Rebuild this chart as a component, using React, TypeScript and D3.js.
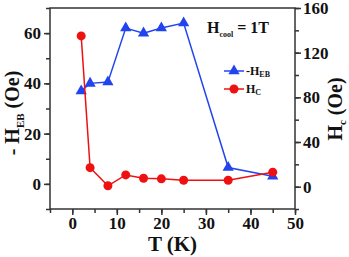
import React, { useEffect, useRef } from 'react';
import * as d3 from 'd3';

// temperatures (K) and measured values
const tempsK = [2, 4, 8, 12, 16, 20, 25, 35, 45];
const hebValues = [37, 40, 40.5, 62, 60, 62, 64, 6.5, 3];
const hcValues = [135, 17, 0.8, 10.5, 7.5, 7, 5.7, 5.7, 13];

const xTicks = [0, 10, 20, 30, 40, 50];
const leftTicks = [0, 20, 40, 60];
const rightTicks = [0, 40, 80, 120, 160];

const BLUE = '#2244ee';
const RED = '#ee1111';
const AXIS = '#333';
const FONT = '"Liberation Serif", "Times New Roman", serif';

const App: React.FC = () => {
    const svgRef = useRef<SVGSVGElement | null>(null);

    useEffect(() => {
        const svg = d3.select(svgRef.current);
        svg.selectAll('*').remove();

        const margin = { top: 8, right: 54, bottom: 48, left: 50 };
        const width = 349;
        const height = 257;

        const x = d3.scaleLinear().domain([-5, 50]).range([margin.left, width - margin.right]);
        const yL = d3.scaleLinear().domain([-10, 70]).range([height - margin.bottom, margin.top]);
        const yR = d3.scaleLinear().domain([-20, 160]).range([height - margin.bottom, margin.top]);

        const styleAxis = (g: d3.Selection<SVGGElement, unknown, null, undefined>) => {
            g.select('.domain').remove();
            g.selectAll('line').attr('stroke', AXIS).attr('stroke-width', 1.5);
            g.selectAll('text')
                .attr('font-family', FONT)
                .attr('font-weight', 'bold')
                .attr('font-size', 17)
                .attr('fill', '#111');
        };

        // minor ticks
        svg.append('g')
            .attr('transform', `translate(0,${height - margin.bottom})`)
            .call(d3.axisBottom(x).tickValues(d3.range(-5, 51, 5)).tickSize(4).tickFormat(() => ''))
            .call(styleAxis);
        svg.append('g')
            .attr('transform', `translate(${margin.left},0)`)
            .call(d3.axisLeft(yL).tickValues(d3.range(-10, 71, 10)).tickSize(4).tickFormat(() => ''))
            .call(styleAxis);
        svg.append('g')
            .attr('transform', `translate(${width - margin.right},0)`)
            .call(d3.axisRight(yR).tickValues(d3.range(-20, 161, 20)).tickSize(4).tickFormat(() => ''))
            .call(styleAxis);

        // major ticks
        svg.append('g')
            .attr('transform', `translate(0,${height - margin.bottom})`)
            .call(d3.axisBottom(x).tickValues(xTicks).tickSize(6).tickPadding(2).tickFormat(d3.format('d')))
            .call(styleAxis);
        svg.append('g')
            .attr('transform', `translate(${margin.left},0)`)
            .call(d3.axisLeft(yL).tickValues(leftTicks).tickSize(6).tickPadding(3).tickFormat(d3.format('d')))
            .call(styleAxis);
        svg.append('g')
            .attr('transform', `translate(${width - margin.right},0)`)
            .call(d3.axisRight(yR).tickValues(rightTicks).tickSize(6).tickPadding(2).tickFormat(d3.format('d')))
            .call(styleAxis);

        // frame
        svg.append('rect')
            .attr('x', margin.left)
            .attr('y', margin.top)
            .attr('width', width - margin.left - margin.right)
            .attr('height', height - margin.top - margin.bottom)
            .attr('fill', 'none')
            .attr('stroke', AXIS)
            .attr('stroke-width', 1.5);

        const tri = d3.symbol().type(d3.symbolTriangle).size(55);

        // -HEB series
        const hebData = tempsK.map((t, i) => ({ t, v: hebValues[i] }));
        svg.append('path')
            .datum(hebData)
            .attr('fill', 'none')
            .attr('stroke', BLUE)
            .attr('stroke-width', 1.5)
            .attr('d', d3.line<{ t: number; v: number }>().x(d => x(d.t)).y(d => yL(d.v)));
        svg.append('g')
            .selectAll('path')
            .data(hebData)
            .join('path')
            .attr('d', tri)
            .attr('transform', d => `translate(${x(d.t)},${yL(d.v)})`)
            .attr('fill', BLUE);

        // Hc series
        const hcData = tempsK.map((t, i) => ({ t, v: hcValues[i] }));
        svg.append('path')
            .datum(hcData)
            .attr('fill', 'none')
            .attr('stroke', RED)
            .attr('stroke-width', 1.5)
            .attr('d', d3.line<{ t: number; v: number }>().x(d => x(d.t)).y(d => yR(d.v)));
        svg.append('g')
            .selectAll('circle')
            .data(hcData)
            .join('circle')
            .attr('cx', d => x(d.t))
            .attr('cy', d => yR(d.v))
            .attr('r', 4.5)
            .attr('fill', RED);

        // legend
        const legend = [
            { color: BLUE, main: '-H', sub: 'EB', marker: 'tri', y: 71 },
            { color: RED, main: 'H', sub: 'C', marker: 'circle', y: 89 },
        ];
        legend.forEach(item => {
            const g = svg.append('g');
            g.append('line')
                .attr('x1', 224).attr('x2', 244)
                .attr('y1', item.y).attr('y2', item.y)
                .attr('stroke', item.color).attr('stroke-width', 1.5);
            if (item.marker === 'tri') {
                g.append('path').attr('d', tri).attr('transform', `translate(234,${item.y})`).attr('fill', item.color);
            } else {
                g.append('circle').attr('cx', 234).attr('cy', item.y).attr('r', 4.5).attr('fill', item.color);
            }
            const t = g.append('text')
                .attr('x', 246).attr('y', item.y + 4)
                .attr('font-family', FONT).attr('font-weight', 'bold').attr('font-size', 12)
                .attr('fill', '#111');
            t.append('tspan').text(item.main);
            t.append('tspan').attr('font-size', 8).attr('dy', 2).text(item.sub);
        });

        // H_cool annotation
        const hc = svg.append('text')
            .attr('x', 207).attr('y', 33)
            .attr('font-family', FONT).attr('font-weight', 'bold').attr('font-size', 16)
            .attr('fill', '#111');
        hc.append('tspan').text('H');
        hc.append('tspan').attr('font-size', 8).attr('dy', 4).text('cool');
        hc.append('tspan').attr('dy', -4).text(' = 1T');

        // axis titles
        const xt = svg.append('text')
            .attr('x', (margin.left + width - margin.right) / 2)
            .attr('y', 251)
            .attr('text-anchor', 'middle')
            .attr('font-family', FONT).attr('font-weight', 'bold').attr('font-size', 21)
            .attr('fill', '#111');
        xt.text('T (K)');

        const yl = svg.append('text')
            .attr('transform', `translate(19,113) rotate(-90)`)
            .attr('text-anchor', 'middle')
            .attr('font-family', FONT).attr('font-weight', 'bold').attr('font-size', 20)
            .attr('fill', '#111');
        yl.append('tspan').text('- H');
        yl.append('tspan').attr('font-size', 11).attr('dy', 5).text('EB');
        yl.append('tspan').attr('dy', -5).text(' (Oe)');

        const yr = svg.append('text')
            .attr('transform', `translate(342,109) rotate(-90)`)
            .attr('text-anchor', 'middle')
            .attr('font-family', FONT).attr('font-weight', 'bold').attr('font-size', 20)
            .attr('fill', '#111');
        yr.append('tspan').text('H');
        yr.append('tspan').attr('font-size', 11).attr('dy', 4).text('c');
        yr.append('tspan').attr('dy', -4).text(' (Oe)');
    }, []);

    return (
        <svg
            ref={svgRef}
            width={349}
            height={257}
            style={{ position: 'absolute', left: 0, top: 0, background: '#fff' }}
        />
    );
};

export default App;
